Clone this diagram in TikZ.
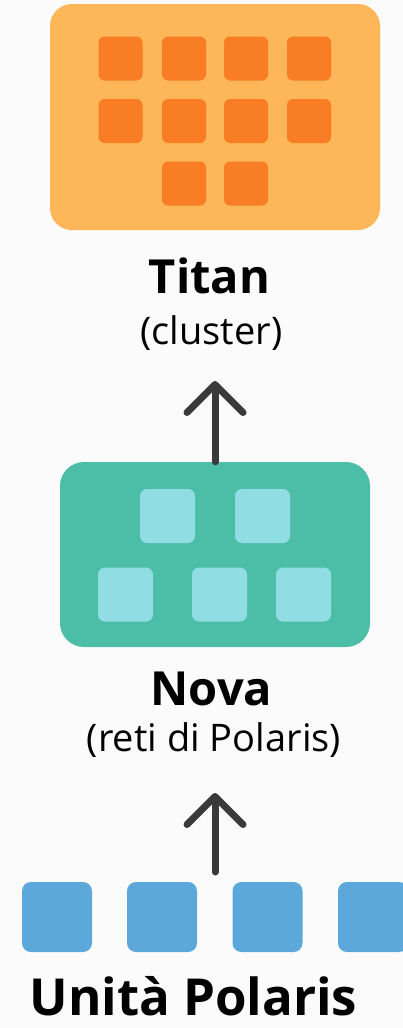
\documentclass[tikz,border=0pt]{standalone}
\usepackage{fontspec}
\setmainfont{Open Sans}
\usetikzlibrary{arrows.meta}
\definecolor{bg}{HTML}{FBFBFB}
\definecolor{titanbox}{HTML}{FDB658}
\definecolor{titansq}{HTML}{F97D24}
\definecolor{novabox}{HTML}{4CBEA7}
\definecolor{novasq}{HTML}{90DDE3}
\definecolor{unitsq}{HTML}{5CA8DA}
\definecolor{arrowc}{HTML}{3A3A3A}
\tikzset{
  bigbox/.style={rounded corners=22pt, inner sep=0pt, draw=none},
  osq/.style={fill=titansq, rounded corners=6pt, minimum width=44pt, minimum height=44pt, inner sep=0pt},
  nsq/.style={fill=novasq, rounded corners=7pt, minimum width=55pt, minimum height=54pt, inner sep=0pt},
  usq/.style={fill=unitsq, rounded corners=9pt, minimum width=70pt, minimum height=70pt, inner sep=0pt},
  title/.style={anchor=base, inner sep=0pt, font=\fontsize{47}{56}\selectfont\bfseries},
  sub/.style={anchor=base, inner sep=0pt, font=\fontsize{38}{44}\selectfont},
  uparrow/.style={draw=arrowc, line width=7pt, line cap=round,
    -{Straight Barb[round, length=28pt, width=56pt]}}
}
\begin{document}
\begin{tikzpicture}[x=1pt,y=-1pt]
\fill[bg] (0,0) rectangle (403,1028);
\useasboundingbox (0,0) rectangle (403,1028);
\clip (0,0) rectangle (403,1028);
% Titan
\node[bigbox, fill=titanbox, minimum width=330pt, minimum height=226pt] (titan) at (215,117) {};
\foreach \x/\y [count=\i] in {120.5/58.5,184/58.5,246/58.5,309/58.5,120.5/121,184/121,246/121,309/121,184/183.5,246/183.5}
  \node[osq] (o\i) at (\x,\y) {};
\node[title] (titanlbl) at (209.5,293) {Titan};
\node[sub] (titansub) at (211.5,344) {(cluster)};
% Nova
\node[bigbox, fill=novabox, rounded corners=24pt, minimum width=310pt, minimum height=185pt] (nova) at (215,554.5) {};
\foreach \x/\y [count=\i] in {167.5/516,262.5/516,125.5/594.5,219.5/594.5,303.5/594.5}
  \node[nsq] (n\i) at (\x,\y) {};
\node[title] (novalbl) at (211.5,705) {Nova};
\node[sub] (novasub) at (214,751) {(reti di Polaris)};
% Unita
\foreach \x [count=\i] in {57,162,267.5,373}
  \node[usq] (u\i) at (\x,917) {};
\node[title, font=\fontsize{51}{60}\selectfont\bfseries] (unitlbl) at (193.5,1015) {Unità Polaris};
% arrows
\coordinate (tip1) at (215,381);
\coordinate (tip2) at (215,793);
\coordinate (base2) at (215,872);
\draw[uparrow] (nova.north) -- (tip1);
\draw[uparrow] (base2) -- (tip2);
\end{tikzpicture}
\end{document}
